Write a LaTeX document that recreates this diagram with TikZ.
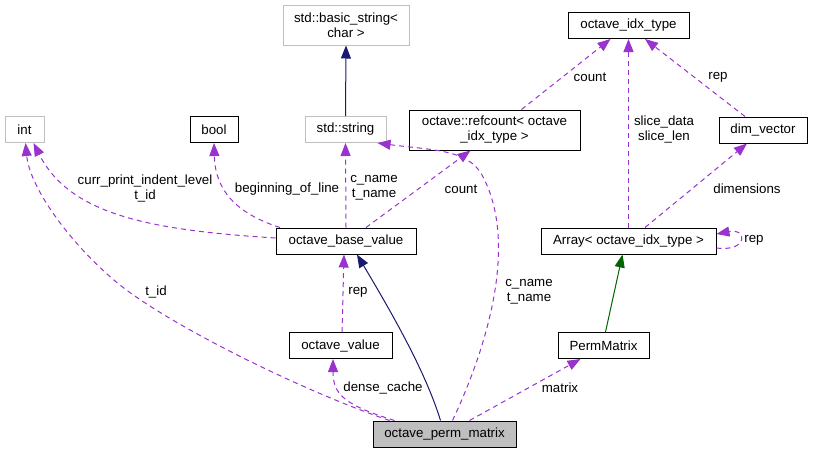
\documentclass[tikz,border=0pt]{standalone}
\usepackage{fontspec}
\setmainfont{Liberation Sans}
\usepackage{tikz}
\usetikzlibrary{arrows.meta}
\definecolor{usecol}{HTML}{9A32CD}
\definecolor{navy}{HTML}{191970}
\definecolor{inhgreen}{HTML}{006400}
\definecolor{extgray}{HTML}{BFBFBF}
\begin{document}
\begin{tikzpicture}[x=1pt,y=-1pt,font=\fontsize{13.3}{15}\selectfont,>={Triangle[length=13pt,width=10pt]}]
\tikzset{cls/.style={draw=black,line width=1pt,inner sep=0pt,minimum height=26pt,align=center}, ext/.style={cls,draw=extgray}, self/.style={cls,fill=extgray}, usage/.style={->,draw=usecol,line width=1pt,dash pattern=on 5pt off 4pt}, pub/.style={->,draw=navy,line width=1pt}, tmpl/.style={->,draw=inhgreen,line width=1pt}, lbl/.style={inner sep=0pt,align=center}}
\useasboundingbox (0,0) rectangle (813,453);
\node[ext,minimum width=126pt,minimum height=40pt] (basic) at (346,25) {std::basic\_string<\\char >};
\node[ext,minimum width=39pt] (int) at (24.5,129.5) {int};
\node[cls,minimum width=48pt] (bool) at (214,129.5) {bool};
\node[ext,minimum width=81pt] (str) at (345.5,129.5) {std::string};
\node[cls,minimum width=171pt,minimum height=40pt] (refc) at (494.5,130) {octave::refcount< octave\\\_idx\_type >};
\node[cls,minimum width=121pt] (idx) at (628.5,25.5) {octave\_idx\_type};
\node[cls,minimum width=88pt] (dimv) at (763,130) {dim\_vector};
\node[cls,minimum width=140pt] (obv) at (346,241) {octave\_base\_value};
\node[cls,minimum width=175pt] (arr) at (628.5,241) {Array< octave\_idx\_type >};
\node[cls,minimum width=103pt] (oval) at (340.5,345.5) {octave\_value};
\node[cls,minimum width=91pt] (perm) at (603.5,345.5) {PermMatrix};
\node[self,minimum width=143pt] (opm) at (444.5,434) {octave\_perm\_matrix};
\draw[pub] (str.north) -- (basic.south);
\draw[pub] ([xshift=-4]opm.north) .. controls (425,370) and (390,310) .. ([xshift=11]obv.south);
\draw[tmpl] ([xshift=2]perm.north) -- ([xshift=-6]arr.south);
\draw[usage] ([xshift=-55]opm.north) .. controls (300,390) and (170,325) .. (120,285) .. controls (75,249) and (30,190) .. ([xshift=1]int.south);
\draw[usage] ([yshift=3]obv.west) .. controls (150,230) and (70,215) .. ([xshift=9]int.south);
\draw[usage] ([xshift=-66]obv.north) .. controls (225,210) and (215,180) .. (bool.south);
\draw[usage] (obv.north) -- (str.south);
\draw[usage] ([xshift=20]obv.north) -- ([xshift=-24]refc.south);
\draw[usage] ([xshift=8]opm.north) .. controls (495,330) and (515,235) .. (482,175) .. controls (468,149) and (430,150) .. ([xshift=-9]str.south east);
\draw[usage] ([xshift=27]refc.north) -- ([xshift=-18]idx.south);
\draw[usage] (arr.north) -- (idx.south);
\draw[usage] ([xshift=-18]dimv.north) -- ([xshift=16.5]idx.south);
\draw[usage] ([xshift=16.5]arr.north) -- ([xshift=-16]dimv.south);
\draw[usage] ([yshift=-7]arr.east) .. controls (748,252) and (748,228) .. ([yshift=7]arr.east);
\draw[usage] ([xshift=1.5]oval.north) -- ([xshift=-2]obv.south);
\draw[usage] ([xshift=-50]opm.north) .. controls (345,405) and (333,395) .. ([xshift=-7.5]oval.south);
\draw[usage] ([xshift=25]opm.north) -- ([xshift=-23]perm.south);
\node[lbl] (lcpil) at (145,188) {curr\_print\_indent\_level\\t\_id};
\node[lbl] (lbol) at (287,189) {beginning\_of\_line};
\node[lbl] (lname) at (374,188) {c\_name\\t\_name};
\node[lbl] (lcnt) at (461,189) {count};
\node[lbl] (lcnt2) at (590,77) {count};
\node[lbl] (lslice) at (664,129) {slice\_data\\slice\_len};
\node[lbl] (lrep) at (718,77) {rep};
\node[lbl] (ldims) at (747,189) {dimensions};
\node[lbl] (lrep2) at (754,240) {rep};
\node[lbl] (ltid) at (156,292) {t\_id};
\node[lbl] (lrep3) at (358,292) {rep};
\node[lbl] (lname2) at (529,292) {c\_name\\t\_name};
\node[lbl] (ldense) at (383,388) {dense\_cache};
\node[lbl] (lmat) at (560,388) {matrix};
\end{tikzpicture}
\end{document}
